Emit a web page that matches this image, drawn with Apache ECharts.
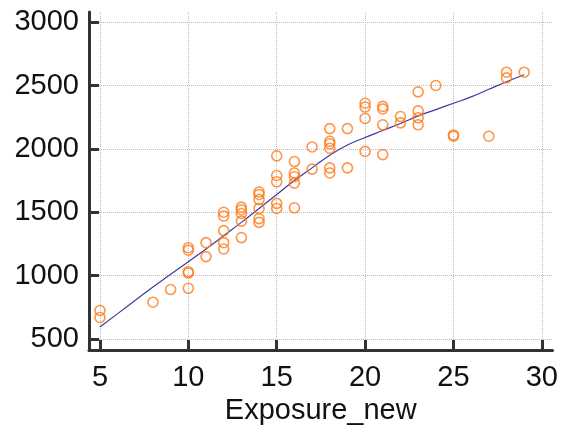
<!DOCTYPE html>
<html>
<head>
<meta charset="utf-8">
<script src="https://cdn.jsdelivr.net/npm/echarts@6/dist/echarts.min.js"></script>
<style>
html,body{margin:0;padding:0;background:#fff;}
#chart{width:561px;height:439px;}
</style>
</head>
<body>
<div id="chart"></div>
<script>
// Observed points
var pointX = [5,5, 8, 9, 10,10,10,10,10, 11,11, 12,12,12,12,12, 13,13,13,13,13,
  14,14,14,14,14,14, 15,15,15,15,15, 16,16,16,16,16, 17,17,
  18,18,18,18,18,18, 19,19, 20,20,20,20, 21,21,21,21, 22,22,
  23,23,23,23, 24, 25,25, 27, 28,28, 29];
var pointY = [725,670, 790, 890, 900,1020,1030,1200,1220, 1260,1150, 1500,1470,1355,1260,1210, 1540,1520,1490,1430,1300,
  1660,1640,1600,1530,1450,1420, 1945,1790,1740,1570,1530, 1900,1810,1780,1730,1535, 2015,1840,
  2160,2060,2040,2005,1850,1810, 2160,1850, 2360,2330,2240,1980, 2335,2315,2190,1955, 2255,2205,
  2450,2300,2245,2190, 2500, 2110,2100, 2100, 2605,2560, 2605];
// Fitted curve
var fitX = [5,6,7,8,9,10,11,12,13,14,15,16,17,18,19,20,21,22,23,24,25,26,27,28,29];
var fitY = [595,700,805,910,1010,1110,1210,1315,1420,1530,1640,1750,1850,1950,2030,2090,2145,2200,2260,2310,2360,2410,2470,2530,2585];
var xTicks = [5,10,15,20,25,30];
var yTicks = [500,1000,1500,2000,2500,3000];
var xTitle = 'Exposure_new';

var chart = echarts.init(document.getElementById('chart'));
var font = 'Liberation Sans, Arial, sans-serif';
var axisCol = '#333333';
var scatterData = pointX.map(function(x,i){return [x, pointY[i]];});
var lineData = fitX.map(function(x,i){return [x, fitY[i]];});
function plain(v){return String(v);}
chart.setOption({
  animation:false,
  grid:{left:89,right:8,top:12,bottom:89,containLabel:false},
  xAxis:{
    type:'value', min:4.38, max:30.6,
    name:xTitle, nameLocation:'middle', nameGap:46,
    nameTextStyle:{fontFamily:font,fontSize:29,color:'#111'},
    axisLine:{show:true,onZero:false,lineStyle:{color:axisCol,width:3}},
    axisTick:{show:true,inside:true,length:10,lineStyle:{color:axisCol,width:3},customValues:xTicks},
    axisLabel:{fontFamily:font,fontSize:29,color:'#111',margin:13,customValues:xTicks,formatter:plain},
    splitLine:{show:true,lineStyle:{color:'#bdbdbd',type:'dotted',width:1}}
  },
  yAxis:{
    type:'value', min:413, max:3080,
    axisLine:{show:true,onZero:false,lineStyle:{color:axisCol,width:3}},
    axisTick:{show:true,inside:true,length:10,lineStyle:{color:axisCol,width:3},customValues:yTicks},
    axisLabel:{fontFamily:font,fontSize:29,color:'#111',margin:10,customValues:yTicks,formatter:plain},
    splitLine:{show:true,lineStyle:{color:'#bdbdbd',type:'dotted',width:1}}
  },
  series:[
    {type:'line',data:lineData,smooth:true,showSymbol:false,symbol:'none',
     lineStyle:{color:'#3b3b9e',width:1.2},z:2},
    {type:'scatter',data:scatterData,symbol:'circle',symbolSize:10,
     itemStyle:{color:'rgba(255,255,255,0)',borderColor:'#ff7a1a',borderWidth:1.6},z:3}
  ]
});
</script>
</body>
</html>
